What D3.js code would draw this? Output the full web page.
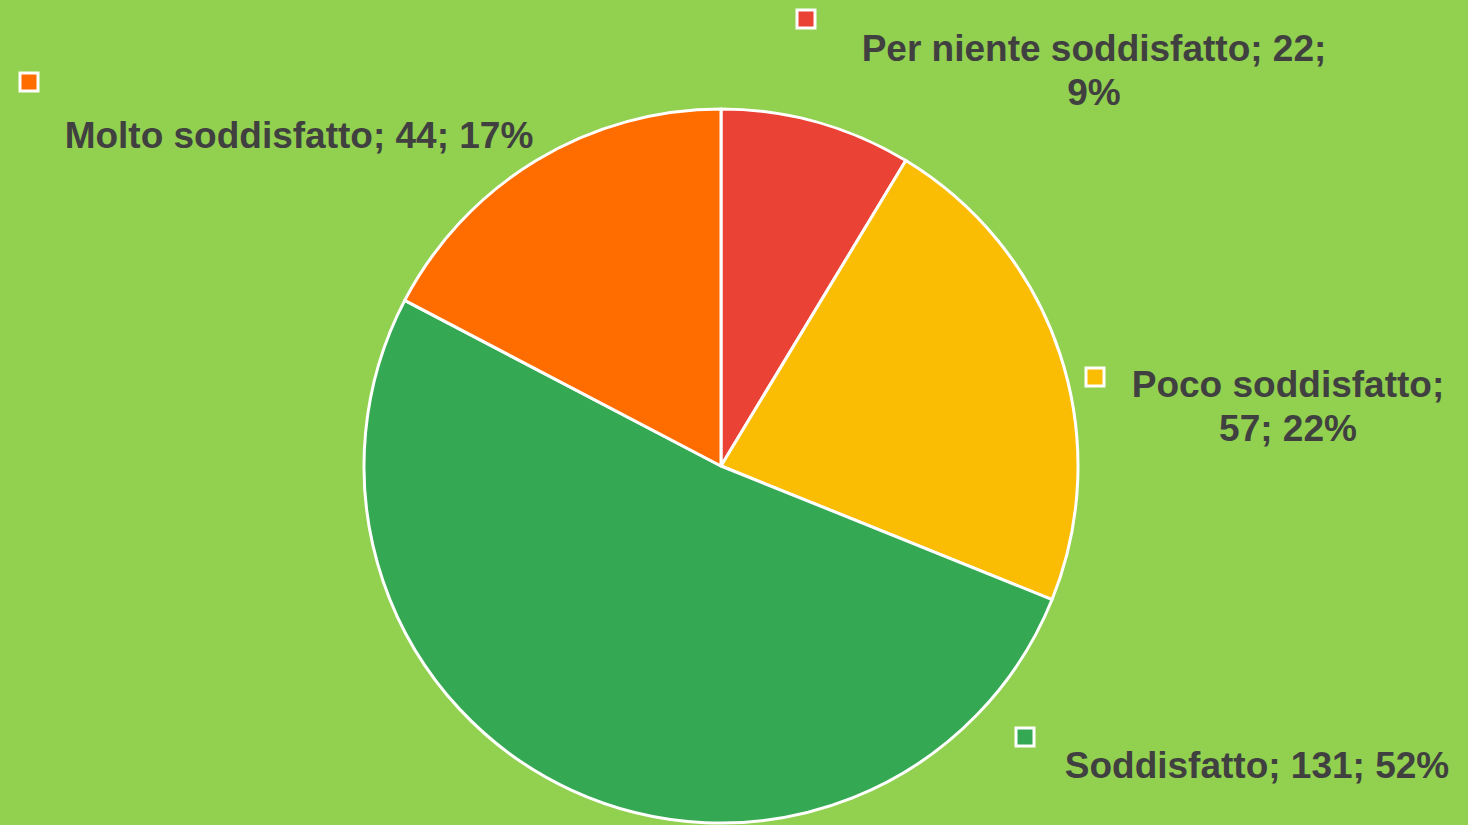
<!DOCTYPE html>
<html>
<head>
<meta charset="utf-8">
<script src="https://cdn.jsdelivr.net/npm/d3@7"></script>
<style>
  html, body { margin: 0; padding: 0; background: #92d050; }
  svg { display: block; }
  .lbl { font-family: "Liberation Sans", Arial, sans-serif; font-weight: bold; font-size: 37px; fill: #404040; }
</style>
</head>
<body>
<div id="chart"></div>
<script>
// data
const categories = ["Per niente soddisfatto", "Poco soddisfatto", "Soddisfatto", "Molto soddisfatto"];
const counts = [22, 57, 131, 44];
const colors = ["#ea4335", "#fbbc04", "#34a853", "#ff6d01"];

const width = 1468, height = 825;
const cx = 721, cy = 466, radius = 357;

// label layout (lines, anchor centre x, first baseline, key square pos)
const labelLayout = [
  { x: 1094, y: 61, lines: 2, key: [797, 10] },
  { x: 1288, y: 397, lines: 2, key: [1086, 368] },
  { x: 1257, y: 778, lines: 1, key: [1016, 728] },
  { x: 299, y: 148, lines: 1, key: [20, 73] }
];

const total = d3.sum(counts);

const svg = d3.select("#chart")
  .append("svg")
  .attr("width", width)
  .attr("height", height)
  .attr("viewBox", [0, 0, width, height]);

svg.append("rect")
  .attr("width", width)
  .attr("height", height)
  .attr("fill", "#92d050");

const pie = d3.pie().sort(null).value(d => d)(counts);
const arc = d3.arc().innerRadius(0).outerRadius(radius);

svg.append("g")
  .attr("transform", `translate(${cx},${cy})`)
  .selectAll("path")
  .data(pie)
  .join("path")
    .attr("d", arc)
    .attr("fill", (d, i) => colors[i])
    .attr("stroke", "#fff")
    .attr("stroke-width", 3)
    .attr("stroke-linejoin", "round");

const labels = svg.append("g");

categories.forEach((name, i) => {
  const pct = Math.round(counts[i] / total * 100) + "%";
  const lay = labelLayout[i];
  let lines;
  if (lay.lines === 2) {
    if (i === 0) lines = [`${name}; ${counts[i]};`, pct];
    else lines = [`${name};`, `${counts[i]}; ${pct}`];
  } else {
    lines = [`${name}; ${counts[i]}; ${pct}`];
  }

  labels.append("rect")
    .attr("x", lay.key[0])
    .attr("y", lay.key[1])
    .attr("width", 18)
    .attr("height", 18)
    .attr("fill", colors[i])
    .attr("stroke", "#fff")
    .attr("stroke-width", 3);

  const t = labels.append("text")
    .attr("class", "lbl")
    .attr("text-anchor", "middle");
  lines.forEach((ln, j) => {
    t.append("tspan")
      .attr("x", lay.x)
      .attr("y", lay.y + j * 44)
      .text(ln);
  });
});
</script>
</body>
</html>
